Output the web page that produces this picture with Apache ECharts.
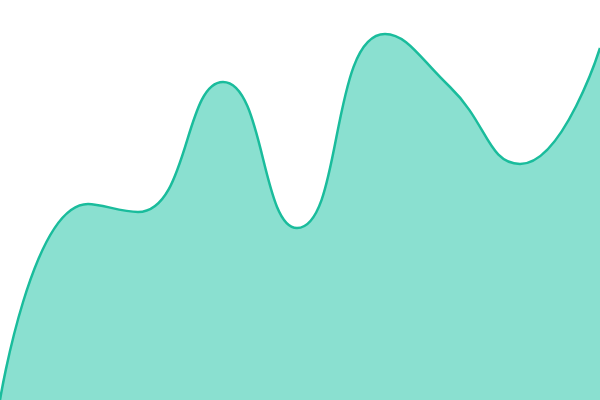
<!DOCTYPE html>
<html>
<head>
<meta charset="utf-8">
<script src="https://cdn.jsdelivr.net/npm/echarts@6/dist/echarts.min.js"></script>
<style>
html,body{margin:0;padding:0;background:#fff}
#chart{width:600px;height:400px}
</style>
</head>
<body>
<div id="chart"></div>
<script>
// 数据: 曲线的极值点
let xs = [0, 88, 138, 223, 297, 385, 450, 520, 600]
let ys = [0, 196, 188, 318, 172, 366, 313, 236, 352]

let points = xs.map((x, i) => [x, ys[i]])

let box = document.querySelector("#chart")
let myChart = echarts.init(box)
let option = {
    animation:false,
    grid:{
        left:0,
        right:0,
        top:0,
        bottom:0
    },
    xAxis:{
        type:'value',
        min:0,
        max:600,
        show:false
    },
    yAxis:{
        type:'value',
        min:0,
        max:400,
        show:false
    },
    series:[{
        type:'line',
        data:points,
        smooth:true,
        showSymbol:false,
        lineStyle:{
            color:'#1abc9c',
            width:2.5
        },
        areaStyle:{
            color:'#8ae0d0',
            opacity:1
        }
    }]
}
myChart.setOption(option)
</script>
</body>
</html>
